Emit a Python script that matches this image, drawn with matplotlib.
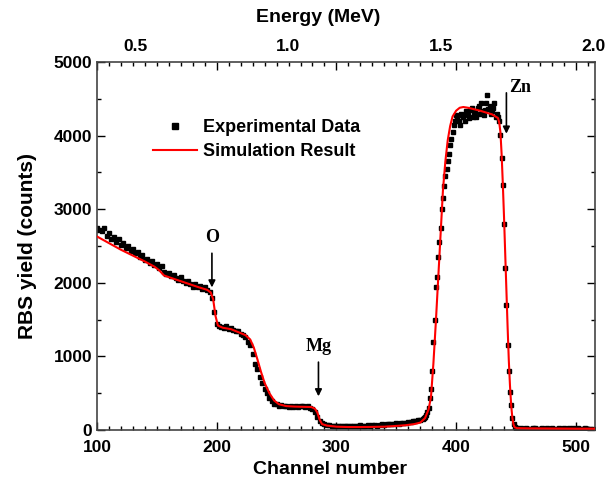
import numpy as np
import matplotlib.pyplot as plt
from matplotlib.ticker import MultipleLocator

plt.rcParams['font.family'] = ['Liberation Sans', 'DejaVu Sans']
plt.rcParams['font.weight'] = 'bold'

# experimental data, channels 100-372 every 2 channels
ch_a = np.arange(100, 373, 2)
cnt_a = [2750, 2720, 2700, 2740, 2640, 2680, 2600, 2620, 2560, 2590,
         2520, 2540, 2480, 2500, 2430, 2460, 2400, 2420, 2350, 2380,
         2310, 2330, 2270, 2300, 2240, 2260, 2200, 2230, 2150, 2120,
         2140, 2090, 2110, 2060, 2040, 2080, 2020, 2000, 2030, 1980,
         1950, 1990, 1940, 1960, 1910, 1940, 1900, 1880, 1800, 1600,
         1440, 1420, 1400, 1380, 1410, 1370, 1390, 1360, 1340, 1350,
         1310, 1290, 1260, 1200, 1150, 1030, 900, 830, 720, 640,
         560, 500, 440, 390, 360, 350, 330, 340, 320, 330,
         310, 325, 315, 330, 310, 320, 330, 310, 320, 300,
         290, 250, 170, 120, 90, 80, 70, 65, 60, 55,
         60, 55, 60, 50, 55, 60, 50, 55, 60, 55,
         65, 60, 55, 65, 60, 70, 65, 60, 70, 75,
         70, 80, 75, 85, 80, 90, 85, 95, 90, 100,
         110, 105, 120, 125, 130, 140, 150]

# experimental data, channels 373-452 every channel (Zn edges)
ch_b = np.arange(373, 453)
cnt_b = [160, 170, 200, 250, 300, 430, 560, 800, 1200, 1500,
         1950, 2080, 2350, 2560, 2750, 3000, 3150, 3320, 3450, 3550,
         3650, 3750, 3880, 3950, 4050, 4150, 4200, 4280,
         4230, 4200, 4150, 4300, 4280, 4250, 4200, 4330, 4310, 4280,
         4240, 4350, 4380, 4260, 4290, 4320, 4250, 4380, 4400, 4300,
         4440, 4330, 4280, 4350, 4450, 4550, 4360, 4400, 4300, 4330,
         4380, 4450, 4250, 4300, 4250,
         4200, 4010, 3700, 3330, 2800, 2200, 1700, 1150, 800, 515,
         340, 160, 80, 45, 30, 25, 20]

# experimental data, channels 454-514
ch_c = np.arange(454, 515, 2)
cnt_c = [22, 18, 25, 20, 15, 22, 28, 18, 20, 24,
         16, 22, 19, 25, 20, 17, 23, 20, 26, 18,
         21, 15, 22, 19, 24, 20, 17, 22, 18, 20, 16]

# simulation curve
sim_ch = [100, 110, 120, 130, 140, 148, 152, 156, 165, 175,
          185, 192, 195, 197, 199, 201, 205, 212, 218, 224,
          228, 231, 234, 237, 240, 244, 248, 252, 258, 265,
          272, 279, 282, 284, 286, 288, 292, 300, 310, 320,
          330, 340, 350, 358, 365, 370, 374, 377, 379, 381,
          383, 386, 389, 391, 393, 395, 397, 400, 403, 406,
          410, 420, 430, 434, 435, 436, 437, 438, 439, 440,
          441, 442, 443, 444, 445, 446, 447, 448, 449, 451,
          460, 480, 500, 516]
sim_cnt = [2630, 2540, 2450, 2370, 2290, 2220, 2170, 2100, 2050, 1995,
           1940, 1905, 1870, 1780, 1550, 1420, 1390, 1370, 1330, 1290,
           1230, 1120, 960, 790, 640, 500, 400, 350, 325, 318,
           315, 312, 290, 240, 140, 80, 60, 45, 40, 40,
           42, 45, 55, 65, 80, 100, 160, 280, 450, 900,
           1450, 2350, 3260, 3650, 3940, 4130, 4260, 4340, 4380, 4390,
           4380, 4340, 4290, 4250, 4240, 4180, 4050, 3750, 3350, 2900,
           2400, 1900, 1400, 950, 600, 330, 160, 70, 35, 25,
           22, 20, 18, 18]


def ch2e(c):
    return 0.5 + (np.asarray(c) - 132) / 255.0


def e2ch(e):
    return 132 + (np.asarray(e) - 0.5) * 255.0


fig = plt.figure(figsize=(6.12, 4.84), dpi=100)
ax = fig.add_axes([0.1585, 0.1116, 0.8137, 0.760])

for c, n in [(ch_a, cnt_a), (ch_b, cnt_b), (ch_c, cnt_c)]:
    ax.plot(c, n, 's', color='black', markersize=3.4, zorder=2,
            label='Experimental Data' if c is ch_a else None)
ax.plot(sim_ch, sim_cnt, color='red', lw=1.5, zorder=3, label='Simulation Result')

ax.set_xlim(100, 516)
ax.set_ylim(0, 5000)
ax.xaxis.set_major_locator(MultipleLocator(100))
ax.xaxis.set_minor_locator(MultipleLocator(10))
ax.yaxis.set_major_locator(MultipleLocator(1000))
ax.yaxis.set_minor_locator(MultipleLocator(500))
ax.tick_params(which='both', direction='in', top=True, right=True,
               labelsize=12.5, colors='black', width=1)
ax.tick_params(axis='x', pad=7)
ax.tick_params(which='major', length=6)
ax.tick_params(which='minor', length=3)
for s in ax.spines.values():
    s.set_color('#444444')
    s.set_linewidth(1.2)

ax.set_xlabel('Channel number', fontsize=14, fontweight='bold')
ax.xaxis.set_label_coords(0.468, -0.085)
ax.set_ylabel('RBS yield (counts)', fontsize=15, fontweight='bold', labelpad=12)

sec = ax.secondary_xaxis('top', functions=(ch2e, e2ch))
sec.set_xticks([0.5, 1.0, 1.5, 2.0])
sec.set_xticklabels(['0.5', '1.0', '1.5', '2.0'])
sec.tick_params(length=0, labelsize=12.5, pad=6)
sec.spines['top'].set_visible(False)
fig.text(318 / 612, 1 - 18 / 484, 'Energy (MeV)', fontsize=14, fontweight='bold',
         ha='center', va='center')

serif = ['Liberation Serif', 'DejaVu Serif']
arrow = dict(arrowstyle='-|>', color='black', lw=1.2, mutation_scale=10)
ax.annotate('', xy=(196, 1900), xytext=(196, 2440), arrowprops=arrow)
ax.text(196, 2620, 'O', family=serif, fontsize=13, fontweight='bold', ha='center', va='center')
ax.annotate('', xy=(285, 420), xytext=(285, 960), arrowprops=arrow)
ax.text(285, 1130, 'Mg', family=serif, fontsize=13, fontweight='bold', ha='center', va='center')
ax.annotate('', xy=(442, 3990), xytext=(442, 4620), arrowprops=arrow)
ax.text(444, 4660, 'Zn', family=serif, fontsize=13, fontweight='bold', ha='left', va='center')

ax.legend(loc='upper left', bbox_to_anchor=(0.095, 0.87), frameon=False,
          fontsize=13, handlelength=2.4, handletextpad=0.35, labelspacing=0.4,
          borderpad=0, markerscale=1.1)

fig.savefig('out.png', dpi=100)
